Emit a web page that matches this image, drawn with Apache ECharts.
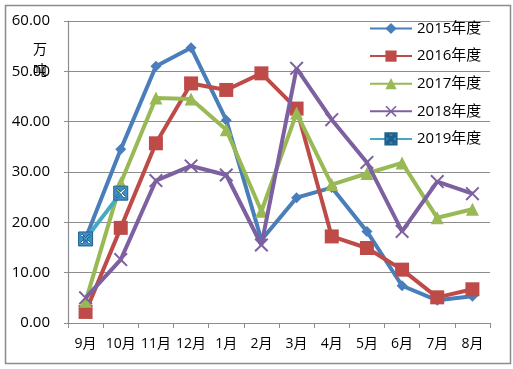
<!DOCTYPE html>
<html>
<head>
<meta charset="utf-8">
<style>
  html, body { margin: 0; padding: 0; background: #fff; }
  #chart { width: 513px; height: 369px; }
</style>
<script src="https://cdn.jsdelivr.net/npm/echarts@6/dist/echarts.min.js"></script>
</head>
<body>
<div id="chart"></div>
<script>
// ── Data ──────────────────────────────────────────────
const months = ['9月', '10月', '11月', '12月', '1月', '2月', '3月', '4月', '5月', '6月', '7月', '8月'];
const seriesNames = ['2015年度', '2016年度', '2017年度', '2018年度', '2019年度'];
const y2015 = [16.8, 34.5, 51.0, 54.7, 40.3, 16.5, 24.9, 26.9, 18.2, 7.4, 4.5, 5.3];
const y2016 = [2.2, 18.9, 35.7, 47.6, 46.3, 49.6, 42.6, 17.2, 14.9, 10.6, 5.1, 6.7];
const y2017 = [4.3, 27.8, 44.7, 44.5, 38.4, 22.2, 41.7, 27.5, 29.7, 31.8, 20.9, 22.6];
const y2018 = [5.0, 12.6, 28.3, 31.2, 29.4, 15.5, 50.6, 40.4, 31.9, 18.2, 28.1, 25.7];
const y2019 = [16.7, 25.8];
const yTicks = [0, 10, 20, 30, 40, 50, 60];

// ── Styles ────────────────────────────────────────────
const fontFamily = '"Open Sans", "Noto Sans CJK SC", sans-serif';
const colors = ['#4A7EBB', '#BE4B48', '#98B954', '#7D60A0', '#46AAC5'];
const gridColor = '#8C8C8C';
const xMark = 'path://M0,1L1,0L5,4L9,0L10,1L6,5L10,9L9,10L5,6L1,10L0,9L4,5Z';
// square with an X cut out (reverse winding)
const xBox = 'path://M0,0H10V10H0ZM1.5,2.5L4,5L1.5,7.5L2.5,8.5L5,6L7.5,8.5L8.5,7.5L6,5L8.5,2.5L7.5,1.5L5,4L2.5,1.5Z';

const allData = [y2015, y2016, y2017, y2018, y2019];
const symbols = ['diamond', 'rect', 'triangle', xMark, xBox];
const symbolSizes = [11, 14, 13, 14, 14];

const chart = echarts.init(document.getElementById('chart'), null, { renderer: 'canvas' });
chart.setOption({
  animation: false,
  backgroundColor: '#fff',
  textStyle: { fontFamily },
  graphic: [
    {
      type: 'rect', left: 3, top: 3, z: -1,
      shape: { width: 505, height: 358 },
      style: { fill: 'none', stroke: '#8C8C8C', lineWidth: 1.5 }
    },
    {
      type: 'text', left: 33, top: 38, z: 10,
      style: { text: '万\n吨', font: '14px "Noto Sans CJK SC"', fill: '#000', lineHeight: 21 }
    }
  ],
  grid: { left: 68, right: 23, top: 21, bottom: 46 },
  legend: {
    orient: 'vertical',
    left: 364, top: 16,
    itemWidth: 42, itemHeight: 14, itemGap: 12.6,
    textStyle: { fontSize: 15, color: '#000', fontFamily },
    data: seriesNames
  },
  xAxis: {
    type: 'category',
    data: months,
    boundaryGap: true,
    axisLine: { lineStyle: { color: gridColor, width: 1.2 } },
    axisTick: { show: true, length: 5, lineStyle: { color: gridColor } },
    axisLabel: { fontSize: 14, color: '#000', margin: 14, interval: 0 }
  },
  yAxis: {
    type: 'value',
    min: yTicks[0], max: yTicks[yTicks.length - 1], interval: 10,
    axisLine: { show: true, lineStyle: { color: gridColor, width: 1.2 } },
    axisTick: { show: true, length: 4, lineStyle: { color: gridColor } },
    splitLine: { lineStyle: { color: gridColor, width: 1.2 } },
    axisLabel: { fontSize: 15, color: '#000', margin: 18, formatter: v => v.toFixed(2) }
  },
  series: seriesNames.map((name, i) => ({
    name,
    type: 'line',
    data: allData[i],
    color: colors[i],
    symbol: symbols[i],
    symbolSize: symbolSizes[i],
    lineStyle: { width: 4, color: colors[i] },
    itemStyle: i === 4
      ? { color: '#3F8FC6', borderColor: '#1F5F8B', borderWidth: 1 }
      : { color: colors[i] },
    z: i === 4 ? 5 : 2 + i * 0.1
  }))
});
</script>
</body>
</html>
